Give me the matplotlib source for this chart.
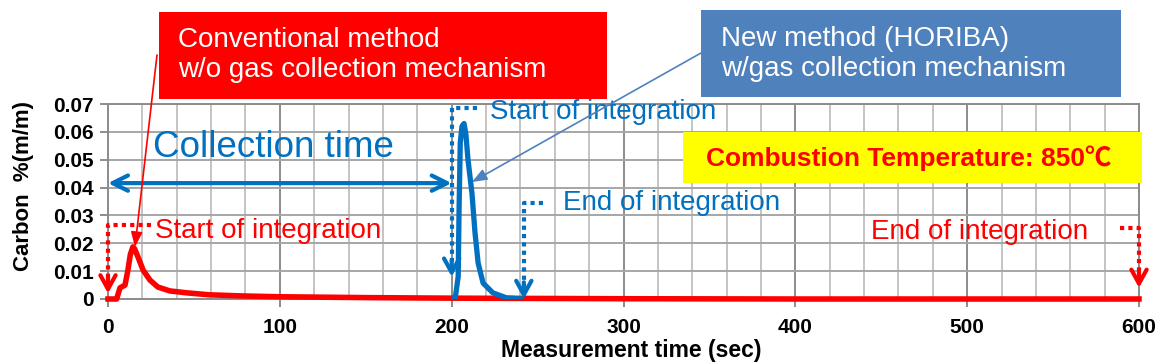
import numpy as np
import matplotlib.pyplot as plt
from matplotlib.patches import Rectangle
from matplotlib.ticker import MultipleLocator

plt.rcParams['font.family'] = ['Liberation Sans', 'DejaVu Sans']

# conventional method (red)
t_conv = [0, 5, 7, 9.9, 11.6, 13, 14.5, 15.5, 17.5, 20.4, 24.4, 29, 36, 46, 59, 78, 100, 150, 200, 300, 400,
          500, 600]
c_conv = [0, 0, 0.004, 0.005, 0.0104, 0.016, 0.0187, 0.018, 0.015, 0.0104, 0.0068, 0.0043, 0.0029, 0.0022,
          0.0015, 0.0011, 0.0008, 0.0005, 0.0003, 0.0001, 0.0, 0.0, 0.0]

# new method (blue)
t_new = [200, 202, 203.8, 204.3, 205, 206, 207.2, 208.3, 209.5, 211.8, 213.6, 215.4, 218.3, 224, 232, 241.5]
c_new = [0, 0, 0.008, 0.032, 0.056, 0.062, 0.063, 0.059, 0.05, 0.038, 0.0237, 0.0129, 0.0057, 0.0022,
         0.0004, 0]

xticks = [0, 100, 200, 300, 400, 500, 600]
yticks = [0, 0.01, 0.02, 0.03, 0.04, 0.05, 0.06, 0.07]
yticklabels = ['0', '0.01', '0.02', '0.03', '0.04', '0.05', '0.06', '0.07']

RED = '#FF0000'
BLUE = '#0070C0'
BOXBLUE = '#4F81BD'

fig = plt.figure(figsize=(11.67, 3.63), dpi=100)
ax = fig.add_axes([108 / 1167, 1 - 299 / 363, (1139 - 108) / 1167, (299 - 104) / 363])

ax.set_xlim(0, 600)
ax.set_ylim(0, 0.07)
ax.set_xticks(xticks)
ax.set_yticks(yticks)
ax.set_yticklabels(yticklabels)
ax.xaxis.set_minor_locator(MultipleLocator(20))

# grid
ax.set_axisbelow(True)
ax.grid(which='major', axis='x', color='#8C8C8C', lw=1.4)
ax.grid(which='minor', axis='x', color='#BFBFBF', lw=1.3)
ax.grid(which='major', axis='y', color='#A6A6A6', lw=1.4)
for s in ax.spines.values():
    s.set_color('#8C8C8C')
    s.set_linewidth(1.4)

ax.tick_params(axis='both', which='major', colors='#8C8C8C', length=6, width=1.4, labelcolor='black',
               labelsize=15)
ax.tick_params(axis='x', which='minor', length=0)
ax.tick_params(axis='x', pad=8)
ax.tick_params(axis='y', pad=4)
for lab in ax.get_xticklabels() + ax.get_yticklabels():
    lab.set_fontweight('bold')

ax.set_xlabel('Measurement time (sec)', fontsize=16.5, fontweight='bold', va='center')
ax.xaxis.set_label_coords((631 - 108) / 1031, -(351 - 299) / 195)
ax.set_ylabel('Carbon  %(m/m)', fontsize=16, fontweight='bold', va='center')
ax.yaxis.set_label_coords(-(108 - 24) / 1031, (299 - 186) / 195)

# curves
ax.plot(t_conv, c_conv, color=RED, lw=4, zorder=3, solid_joinstyle='round', clip_on=False)
ax.plot(t_new, c_new, color=BLUE, lw=3.8, zorder=4, solid_joinstyle='round', solid_capstyle='butt')

def chevron(x, y, color):
    ax.annotate('', xy=(x, y), xytext=(x, y + 0.006),
                arrowprops=dict(arrowstyle='->,head_length=1.0,head_width=0.55', color=color, lw=3,
                                shrinkA=0, shrinkB=0), annotation_clip=False, zorder=5)

def bracket(x0, x1, ytop, ytip, color):
    ax.plot([x1, x0, x0], [ytop, ytop, ytip + 0.003], color=color, lw=3, ls=(0, (1, 1)), zorder=5,
            clip_on=False)
    chevron(x0, ytip, color)

# start / end of integration markers
bracket(0, 25, 0.0265, 0.002, RED)
bracket(200, 215, 0.0685, 0.008, BLUE)
bracket(242, 253, 0.0344, 0.0, BLUE)
bracket(600, 589, 0.0254, 0.004, RED)

fs = 20
ax.text(27.4, 0.0244, 'Start of integration', color=RED, fontsize=fs, va='center', ha='left')
ax.text(444, 0.0242, 'End of integration', color=RED, fontsize=fs, va='center', ha='left')
ax.text(222.5, 0.0671, 'Start of integration', color=BLUE, fontsize=fs, va='center', ha='left')
ax.text(265, 0.0343, 'End of integration', color=BLUE, fontsize=fs, va='center', ha='left')

# collection time
ax.annotate('', xy=(0, 0.0416), xytext=(200, 0.0416),
            arrowprops=dict(arrowstyle='<->,head_length=1.1,head_width=0.55', color=BLUE, lw=3,
                            shrinkA=0, shrinkB=0), zorder=5)
ax.text(96.5, 0.0545, 'Collection time', color=BLUE, fontsize=26.5, ha='center', va='center')

# combustion temperature box
ax.add_patch(Rectangle((334.6, 0.0416), 267.2, 0.0183, facecolor='#FFFF00', edgecolor='none',
                       zorder=6, clip_on=False))
ax.text(466, 0.0506, 'Combustion Temperature: 850\u2103', color=RED, fontsize=19, fontweight='bold',
        ha='center', va='center', zorder=7, family=['Liberation Sans', 'Noto Sans CJK JP', 'DejaVu Sans'])

# method boxes
fig.patches.append(Rectangle((159 / 1167, 1 - 99 / 363), 448 / 1167, 87 / 363, facecolor=RED,
                             edgecolor='none', transform=fig.transFigure, zorder=1))
fig.text(178 / 1167, 1 - 55 / 363, 'Conventional method\nw/o gas collection mechanism', color='white',
         fontsize=20, ha='left', va='center', linespacing=1.22)
fig.patches.append(Rectangle((701 / 1167, 1 - 97 / 363), 420 / 1167, 87 / 363, facecolor=BOXBLUE,
                             edgecolor='none', transform=fig.transFigure, zorder=1))
fig.text(721 / 1167, 1 - 54 / 363, 'New method (HORIBA)\nw/gas collection mechanism', color='white',
         fontsize=20, ha='left', va='center', linespacing=1.22)

# pointer lines from the boxes to the peaks
ax.annotate('', xy=(15.7, 0.0187), xytext=(157 / 1167, 1 - 55 / 363), textcoords='figure fraction',
            arrowprops=dict(arrowstyle='-|>,head_length=0.9,head_width=0.35', color=RED, lw=1.2,
                            shrinkA=0, shrinkB=0), annotation_clip=False, zorder=6)
ax.annotate('', xy=(211.8, 0.042), xytext=(701 / 1167, 1 - 53 / 363), textcoords='figure fraction',
            arrowprops=dict(arrowstyle='-|>,head_length=0.9,head_width=0.35', color=BOXBLUE, lw=1.2,
                            shrinkA=0, shrinkB=0), annotation_clip=False, zorder=6)

fig.savefig('out.png', dpi=100)
